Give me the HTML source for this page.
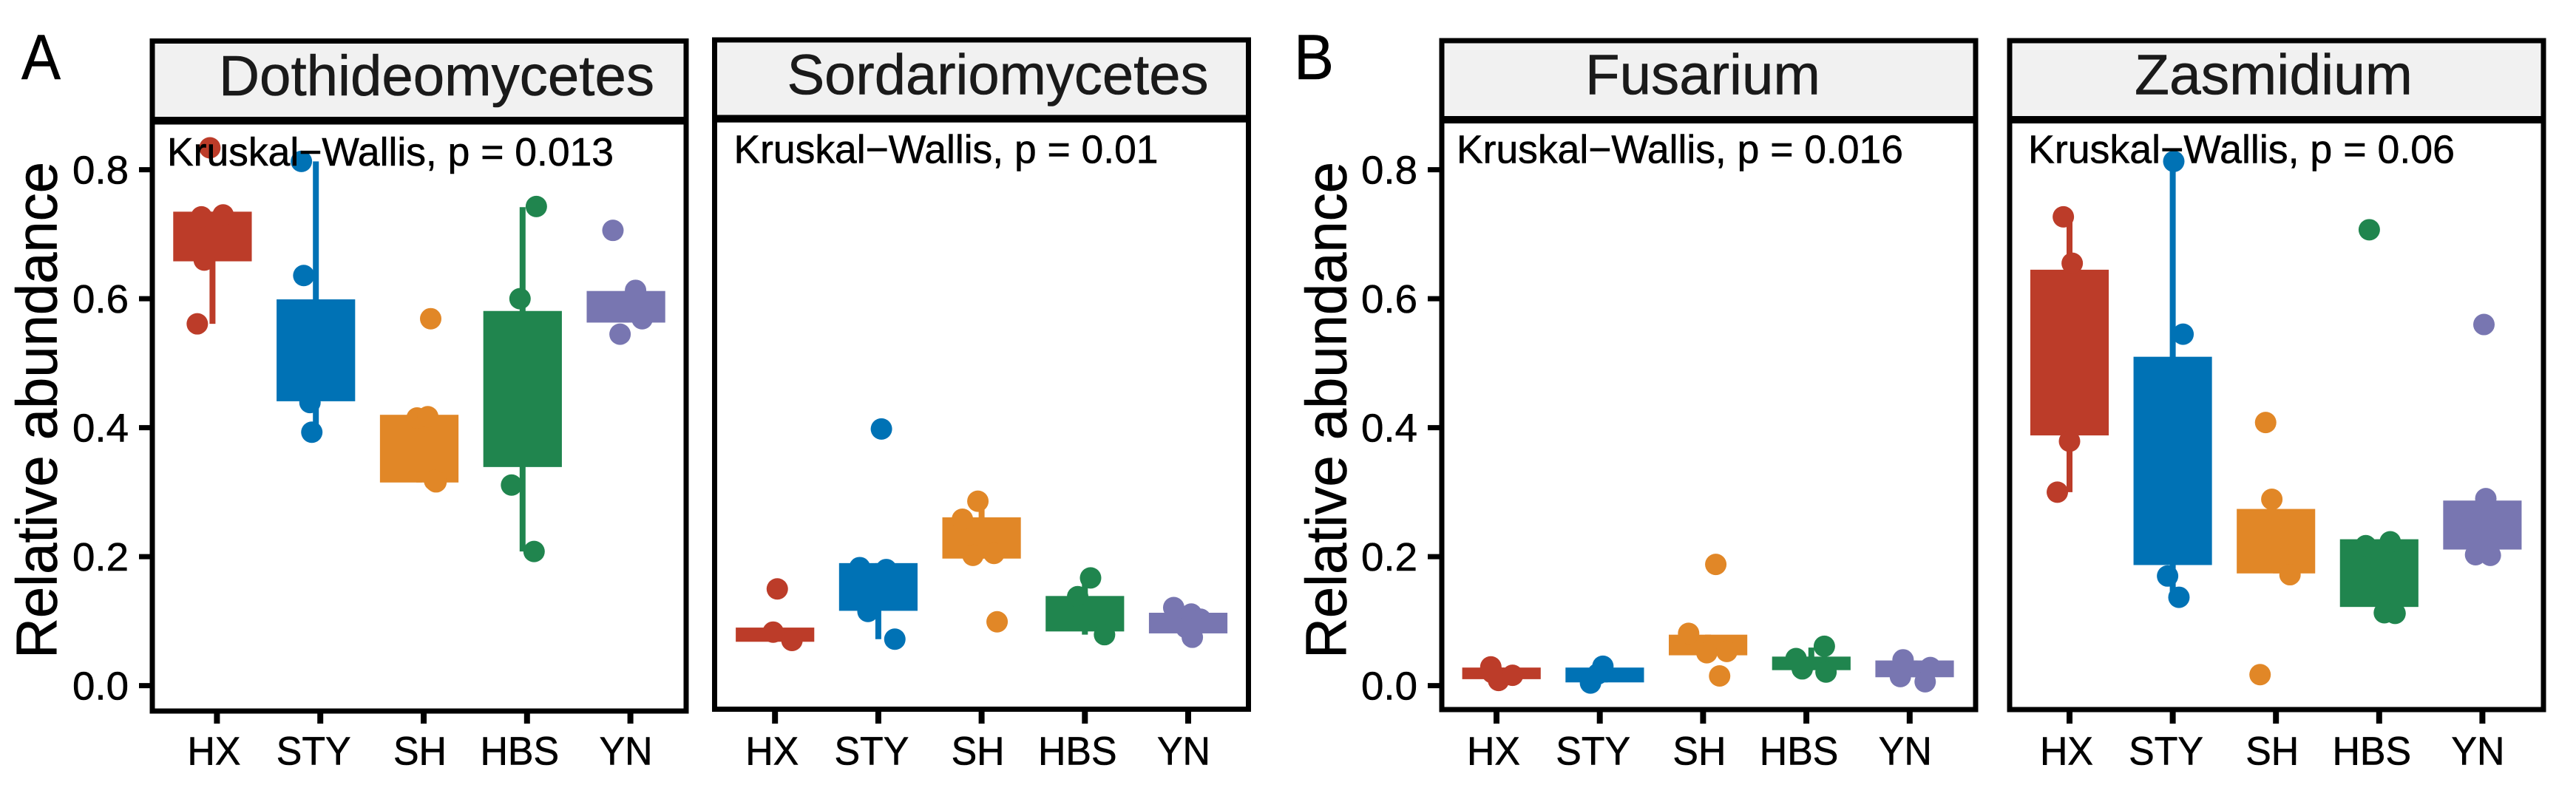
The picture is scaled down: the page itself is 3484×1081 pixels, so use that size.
<!DOCTYPE html>
<html lang="en">
<head>
<meta charset="utf-8">
<title>Relative abundance boxplots</title>
<style>
html,body{margin:0;padding:0;background:#fff;width:3484px;height:1081px;overflow:hidden}
svg{display:block}
text{font-family:"Liberation Sans",sans-serif;fill:#000;stroke:#000;stroke-width:.6px}
.strip{font-size:77px;fill:#1a1a1a;stroke:#1a1a1a;text-anchor:middle}
.kw{font-size:54px}
.ytitle{font-size:78px;text-anchor:middle}
.letter{font-size:86px}
.tick{font-size:54px}
</style>
</head>
<body>
<svg xmlns="http://www.w3.org/2000/svg" width="3484" height="1081" viewBox="0 0 3484 1081">
  <rect x="0" y="0" width="3484" height="1081" fill="#fff"/>
  <g fill="#f1f1f1" stroke="#000" stroke-width="7">
    <rect x="206" y="55.5" width="722" height="106"/>
    <rect x="966.5" y="54" width="722" height="105"/>
    <rect x="1950" y="55" width="722" height="105.5"/>
    <rect x="2718" y="55" width="722" height="105.5"/>
  </g>
  <g id="marks"></g>
  <g fill="none" stroke="#000" stroke-width="7">
    <rect x="206" y="165" width="722" height="797"/>
    <rect x="966.5" y="162.2" width="722" height="797.3"/>
    <rect x="1950" y="163.5" width="722" height="796.5"/>
    <rect x="2718" y="163.5" width="722" height="796.5"/>
  </g>
  <text class="strip" x="590.5" y="129" textLength="589" lengthAdjust="spacingAndGlyphs">Dothideomycetes</text>
  <text class="strip" x="1349.5" y="127.6" textLength="570" lengthAdjust="spacingAndGlyphs">Sordariomycetes</text>
  <text class="strip" x="2303" y="127.6" textLength="318" lengthAdjust="spacingAndGlyphs">Fusarium</text>
  <text class="strip" x="3075" y="127.6" textLength="376" lengthAdjust="spacingAndGlyphs">Zasmidium</text>
  <text class="kw" x="226" y="224" textLength="604" lengthAdjust="spacingAndGlyphs">Kruskal−Wallis, p = 0.013</text>
  <text class="kw" x="992.5" y="220.7" textLength="574" lengthAdjust="spacingAndGlyphs">Kruskal−Wallis, p = 0.01</text>
  <text class="kw" x="1970" y="220.7" textLength="604" lengthAdjust="spacingAndGlyphs">Kruskal−Wallis, p = 0.016</text>
  <text class="kw" x="2743" y="220.7" textLength="577" lengthAdjust="spacingAndGlyphs">Kruskal−Wallis, p = 0.06</text>
  <text class="ytitle" transform="translate(76.5 555) rotate(-90)" textLength="672" lengthAdjust="spacingAndGlyphs">Relative abundance</text>
  <text class="ytitle" transform="translate(1820.6 555) rotate(-90)" textLength="672" lengthAdjust="spacingAndGlyphs">Relative abundance</text>
  <text class="letter" x="29" y="107" textLength="53" lengthAdjust="spacingAndGlyphs">A</text>
  <text class="letter" x="1750" y="107" textLength="54" lengthAdjust="spacingAndGlyphs">B</text>
  <g id="axes"></g>
</svg>
<script>
const categories = ['HX', 'STY', 'SH', 'HBS', 'YN'];
const colors = ['#BC3C29', '#0072B5', '#E18727', '#20854E', '#7876B1'];
const yTickValues = [0, 0.2, 0.4, 0.6, 0.8];
const yTickLabels = ['0.0', '0.2', '0.4', '0.6', '0.8'];

const dothQ3 = [0.735, 0.599, 0.420, 0.581, 0.612];
const dothQ1 = [0.658, 0.441, 0.315, 0.339, 0.563];
const dothWhiskerHigh = [0.735, 0.813, 0.420, 0.742, 0.612];
const dothWhiskerLow = [0.561, 0.393, 0.315, 0.208, 0.563];
const dothValues = [
  [0.834, 0.727, 0.730, 0.660, 0.561],
  [0.813, 0.636, 0.439, 0.393],
  [0.569, 0.415, 0.417, 0.316, 0.318],
  [0.743, 0.600, 0.311, 0.208],
  [0.706, 0.613, 0.569, 0.590, 0.545]
];
const dothJitter = [
  [-0.068, -0.150, 0.060, -0.123, -0.190],
  [-0.183, -0.160, -0.100, -0.082],
  [0.068, -0.064, 0.040, 0.120, 0.105],
  [0.090, -0.068, -0.150, 0.068],
  [-0.169, 0.050, 0.114, 0.000, -0.100]
];

const sordQ3 = [0.090, 0.190, 0.261, 0.139, 0.113];
const sordQ1 = [0.068, 0.116, 0.197, 0.084, 0.081];
const sordWhiskerHigh = [0.090, 0.190, 0.281, 0.166, 0.113];
const sordWhiskerLow = [0.068, 0.072, 0.197, 0.079, 0.081];
const sordValues = [
  [0.150, 0.083, 0.070],
  [0.398, 0.183, 0.180, 0.115, 0.072],
  [0.286, 0.258, 0.202, 0.205, 0.099],
  [0.167, 0.138, 0.079, 0.110],
  [0.121, 0.111, 0.075, 0.103, 0.090]
];
const sordJitter = [
  [0.022, -0.018, 0.164],
  [0.030, -0.180, 0.077, -0.100, 0.160],
  [-0.036, -0.186, -0.084, 0.120, 0.150],
  [0.055, -0.070, 0.190, 0.000],
  [-0.140, 0.030, 0.040, 0.120, -0.020]
];

const fusQ3 = [0.028, 0.028, 0.079, 0.045, 0.039];
const fusQ1 = [0.010, 0.005, 0.047, 0.024, 0.013];
const fusWhiskerHigh = [0.028, 0.028, 0.079, 0.059, 0.039];
const fusWhiskerLow = [0.010, 0.005, 0.047, 0.024, 0.013];
const fusValues = [
  [0.029, 0.008, 0.016, 0.020],
  [0.030, 0.004, 0.018],
  [0.188, 0.081, 0.051, 0.053, 0.015],
  [0.061, 0.042, 0.026, 0.021],
  [0.040, 0.014, 0.006, 0.028]
];
const fusJitter = [
  [-0.055, 0.020, 0.155, -0.040],
  [0.030, -0.090, -0.020],
  [0.123, -0.140, 0.036, 0.230, 0.160],
  [0.174, -0.100, -0.040, 0.190],
  [-0.064, -0.090, 0.150, 0.200]
];

const zasQ3 = [0.645, 0.510, 0.274, 0.227, 0.287];
const zasQ1 = [0.388, 0.187, 0.174, 0.122, 0.211];
const zasWhiskerHigh = [0.727, 0.813, 0.274, 0.227, 0.287];
const zasWhiskerLow = [0.300, 0.137, 0.174, 0.122, 0.211];
const zasValues = [
  [0.727, 0.655, 0.379, 0.300],
  [0.813, 0.545, 0.170, 0.137],
  [0.408, 0.289, 0.172, 0.017],
  [0.707, 0.217, 0.223, 0.113, 0.112],
  [0.560, 0.290, 0.203, 0.202]
];
const zasJitter = [
  [-0.060, 0.026, 0.000, -0.118],
  [0.010, 0.100, -0.050, 0.060],
  [-0.100, -0.040, 0.136, -0.154],
  [-0.096, -0.130, 0.107, 0.050, 0.154],
  [0.015, 0.033, -0.066, 0.077]
];

const panels = [
  {key: 'dothideomycetes', first: 293.4, step: 139.8, shift: -6, q3: dothQ3, q1: dothQ1, high: dothWhiskerHigh, low: dothWhiskerLow, values: dothValues, jitter: dothJitter, yAxisRight: 205, bottom: 962},
  {key: 'sordariomycetes', first: 1048.2, step: 139.7, shift: 0, q3: sordQ3, q1: sordQ1, high: sordWhiskerHigh, low: sordWhiskerLow, values: sordValues, jitter: sordJitter, yAxisRight: 0, bottom: 960},
  {key: 'fusarium', first: 2024, step: 139.7, shift: 6.7, q3: fusQ3, q1: fusQ1, high: fusWhiskerHigh, low: fusWhiskerLow, values: fusValues, jitter: fusJitter, yAxisRight: 1948, bottom: 960},
  {key: 'zasmidium', first: 2799, step: 139.6, shift: 0, q3: zasQ3, q1: zasQ1, high: zasWhiskerHigh, low: zasWhiskerLow, values: zasValues, jitter: zasJitter, yAxisRight: 0, bottom: 960}
];

const SVG_NS = 'http://www.w3.org/2000/svg';
const marks = document.getElementById('marks');
const axes = document.getElementById('axes');
const labelNudge = [-4, -9, -5, -10, -6];

function yScale(v) { return 927.6 - 872.4 * v; }
function xScale(panel, categoryPosition) { return panel.first + panel.step * categoryPosition; }
function make(tag, props, parent) {
  const el = document.createElementNS(SVG_NS, tag);
  Object.keys(props).forEach(function (k) { el.setAttribute(k, props[k]); });
  parent.appendChild(el);
  return el;
}

panels.forEach(function (panel) {
  categories.forEach(function (cat, i) {
    const cx = xScale(panel, i) + panel.shift;
    const boxW = panel.step * 0.76;

    const whisker = make('line', {x1: cx, x2: cx, y1: yScale(panel.high[i]), y2: yScale(panel.low[i]), stroke: colors[i], 'stroke-width': 8}, marks);
    
    

    const box = make('rect', {x: cx - boxW / 2, y: yScale(panel.q3[i]), width: boxW, height: yScale(panel.q1[i]) - yScale(panel.q3[i]), fill: colors[i]}, marks);
    
    

    panel.values[i].forEach(function (v, j) {
      const dot = make('circle', {cx: xScale(panel, i + panel.jitter[i][j]), cy: yScale(v), r: 14.5, fill: colors[i]}, marks);
      
      
    });

    const xt = xScale(panel, i);
    const tick = make('line', {x1: xt, x2: xt, y1: panel.bottom + 2, y2: 979, stroke: '#000', 'stroke-width': 8}, axes);
    
    

    const label = make('text', {x: xt + labelNudge[i], y: 1034.5, 'text-anchor': 'middle', 'class': 'tick'}, axes);
    label.textContent = cat;
    label.setAttribute('textLength', label.getComputedTextLength() * 0.96);
    label.setAttribute('lengthAdjust', 'spacingAndGlyphs');
    
    
  });

  if (panel.yAxisRight) {
    yTickValues.forEach(function (v, i) {
      const y = yScale(v);
      const ytick = make('line', {x1: panel.yAxisRight - 17, x2: panel.yAxisRight, y1: y, y2: y, stroke: '#000', 'stroke-width': 7}, axes);
      
      

      const ylabel = make('text', {x: panel.yAxisRight - 31, y: y + 19, 'text-anchor': 'end', 'class': 'tick', textLength: 76, lengthAdjust: 'spacingAndGlyphs'}, axes);
      ylabel.textContent = yTickLabels[i];
      
      
    });
  }
});
</script>
</body>
</html>
